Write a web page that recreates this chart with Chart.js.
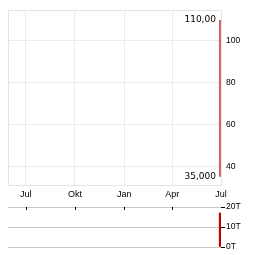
<!DOCTYPE html>
<html>
<head>
<meta charset="utf-8">
<script src="https://cdn.jsdelivr.net/npm/chart.js@4"></script>
<style>
    html, body { margin: 0; padding: 0; background: #fff; }
    #wrap { position: relative; width: 264px; height: 255px; }
    #priceBox { position: absolute; left: 0; top: 0; width: 264px; height: 200px; }
    #volBox { position: absolute; left: 0; top: 200px; width: 264px; height: 55px; }
</style>
</head>
<body>
<div id="wrap">
    <div id="priceBox"><canvas id="priceChart"></canvas></div>
    <div id="volBox"><canvas id="volChart"></canvas></div>
</div>
<script>
// ================= DATA =================
// x = days since 1 Jul of previous year
const monthLabels = ["Jul", "Okt", "Jan", "Apr", "Jul"];
const monthDays = [0, 92, 184, 274, 365];
const priceDays = [363, 363];
const prices = [110, 35];
const priceTicks = [40, 60, 80, 100];
const volumeDays = [363];
const volumes = [17000];
const volumeTicks = [0, 10000, 20000];
const highLabel = "110,00";
const lowLabel = "35,000";

const X_MIN = -33;
const X_MAX = 365;

Chart.defaults.animation = false;
Chart.defaults.font.family = "Arial, 'Liberation Sans', sans-serif";
Chart.defaults.color = "#000";

function monthTicks(scale) {
    scale.ticks = monthDays.map(v => ({ value: v }));
}

function monthLabel(value) {
    const i = monthDays.indexOf(value);
    return i >= 0 ? monthLabels[i] : "";
}

// ================= PRICE =================
const highLowPlugin = {
    id: "highLow",
    afterDatasetsDraw(chart) {
        const { ctx, scales } = chart;
        const x = scales.x.getPixelForValue(priceDays[0]) - 4;
        ctx.save();
        ctx.font = "9px 'DejaVu Sans', sans-serif";
        ctx.fillStyle = "#000";
        ctx.textAlign = "right";
        ctx.textBaseline = "middle";
        ctx.fillText(highLabel, x, scales.y.getPixelForValue(Math.max(...prices)));
        ctx.fillText(lowLabel, x, scales.y.getPixelForValue(Math.min(...prices)));
        ctx.restore();
    }
};

new Chart(document.getElementById("priceChart"), {
    type: "line",
    data: {
        datasets: [{
            data: priceDays.map((d, i) => ({ x: d, y: prices[i] })),
            borderColor: "rgba(200,70,70,0.85)",
            borderWidth: 2,
            pointRadius: 0,
            fill: "start",
            backgroundColor: "rgba(220,120,120,0.25)"
        }]
    },
    options: {
        responsive: true,
        maintainAspectRatio: false,
        layout: { padding: { left: 8, top: 7, right: 0, bottom: 0 } },
        plugins: { legend: { display: false }, tooltip: { enabled: false } },
        scales: {
            x: {
                type: "linear",
                min: X_MIN,
                max: X_MAX,
                afterBuildTicks: monthTicks,
                afterFit: s => { s.height = 15; },
                grid: { color: "#ececec", tickLength: 0 },
                border: { color: "#e4e4e4" },
                ticks: {
                    callback: monthLabel,
                    font: { size: 9 },
                    padding: 4,
                    maxRotation: 0,
                    autoSkip: false
                }
            },
            y: {
                position: "right",
                min: 31,
                max: 114.7,
                afterBuildTicks: s => { s.ticks = priceTicks.map(v => ({ value: v })); },
                afterFit: s => { s.width = 43; },
                grid: { color: "#ececec", tickLength: 0 },
                border: { color: "#e4e4e4" },
                ticks: { font: { size: 8.5 }, padding: 5 }
            },
            top: {
                position: "top",
                display: true,
                afterFit: s => { s.height = 0; },
                grid: { display: false },
                border: { color: "#e4e4e4" },
                ticks: { display: false }
            },
            left: {
                position: "left",
                display: true,
                afterFit: s => { s.width = 0; },
                grid: { display: false },
                border: { color: "#e4e4e4" },
                ticks: { display: false }
            }
        }
    },
    plugins: [highLowPlugin]
});

// ================= VOLUME =================
const monthMarksPlugin = {
    id: "monthMarks",
    afterDraw(chart) {
        const { ctx, scales, chartArea } = chart;
        ctx.save();
        ctx.strokeStyle = "#000";
        ctx.lineWidth = 1;
        monthDays.forEach(d => {
            const x = Math.round(scales.x.getPixelForValue(d)) + 0.5;
            if (x >= chartArea.right - 1) return;
            ctx.beginPath();
            ctx.moveTo(x, chartArea.top);
            ctx.lineTo(x, chartArea.top + 3);
            ctx.stroke();
        });
        ctx.restore();
    }
};

new Chart(document.getElementById("volChart"), {
    type: "bar",
    data: {
        datasets: [{
            data: volumeDays.map((d, i) => ({ x: d, y: volumes[i] })),
            backgroundColor: "#c00000",
            barThickness: 1.5
        }]
    },
    options: {
        responsive: true,
        maintainAspectRatio: false,
        layout: { padding: { left: 8, top: 7, right: 0, bottom: 8 } },
        plugins: { legend: { display: false }, tooltip: { enabled: false } },
        scales: {
            x: {
                type: "linear",
                offset: false,
                min: X_MIN,
                max: X_MAX,
                display: false,
                afterBuildTicks: monthTicks
            },
            y: {
                position: "right",
                min: 0,
                max: 20000,
                afterBuildTicks: s => { s.ticks = volumeTicks.map(v => ({ value: v })); },
                afterFit: s => { s.width = 43; },
                grid: { color: "#c8c8c8", tickLength: 4, tickColor: "#000" },
                border: { display: false },
                ticks: {
                    font: { size: 8.5 },
                    padding: 1,
                    callback: v => (v / 1000) + "T"
                }
            }
        }
    },
    plugins: [monthMarksPlugin]
});
</script>
</body>
</html>
